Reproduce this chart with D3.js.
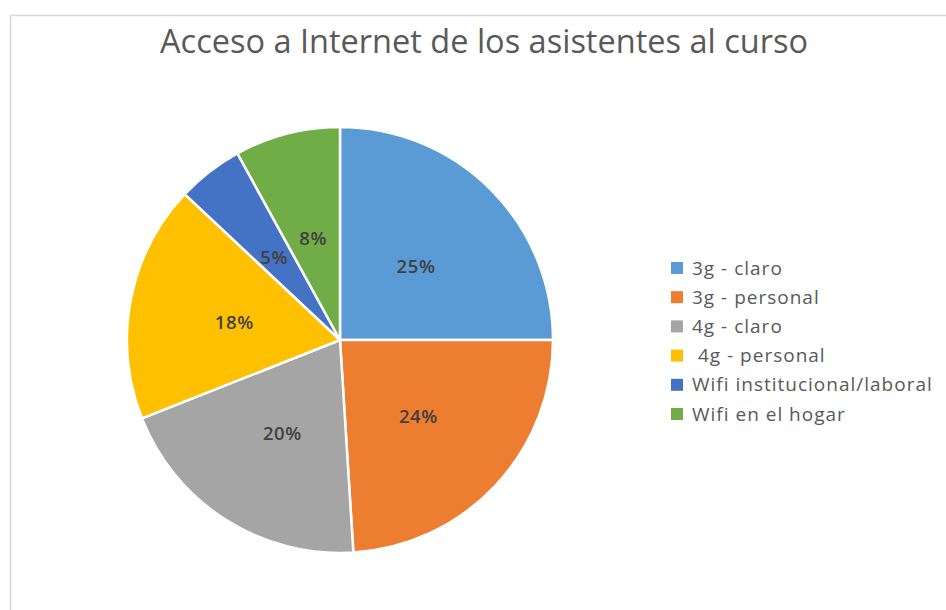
<!doctype html>
<html lang="es">
<head>
    <meta charset="UTF-8">
    <title>Acceso a Internet</title>
    <script src="https://d3js.org/d3.v7.min.js"></script>
    <style>
        body { margin: 0; background: #fff; }
        .title { font: 33px "Open Sans", sans-serif; fill: #595959; }
        .legend text { font: 500 19px "Open Sans", sans-serif; fill: #595959; letter-spacing: 1px; }
        .pct { font: 600 18.5px "Open Sans", sans-serif; fill: #404040; letter-spacing: 0.6px; }
    </style>
</head>
<body>
<svg id="chart" width="946" height="610"></svg>
<script>
    var categories = ["3g - claro", "3g - personal", "4g - claro", " 4g - personal", "Wifi institucional/laboral", "Wifi en el hogar"];
    var values = [25, 24, 20, 18, 5, 8];
    var colors = ["#5B9BD5", "#ED7D31", "#A5A5A5", "#FFC000", "#4472C4", "#70AD47"];

    var svg = d3.select("#chart");

    // frame of the chart area
    svg.append("path")
        .attr("d", "M946,15.5H10.5V610")
        .attr("fill", "none")
        .attr("stroke", "#d9d9d9")
        .attr("stroke-width", 1.5);

    svg.append("text")
        .attr("class", "title")
        .attr("x", 484)
        .attr("y", 53)
        .attr("text-anchor", "middle")
        .attr("textLength", 648)
        .attr("lengthAdjust", "spacingAndGlyphs")
        .text("Acceso a Internet de los asistentes al curso");

    var cx = 340, cy = 340, r = 213;
    var data = categories.map(function (c, i) { return {name: c, value: values[i], color: colors[i]}; });

    var pie = d3.pie().sort(null).value(function (d) { return d.value; });
    var arc = d3.arc().innerRadius(0).outerRadius(r);
    var labelArc = d3.arc().innerRadius(r * 0.505).outerRadius(r * 0.505);

    var g = svg.append("g").attr("transform", "translate(" + cx + "," + cy + ")");
    var arcs = pie(data);

    g.selectAll("path")
        .data(arcs)
        .enter()
        .append("path")
        .attr("d", arc)
        .attr("fill", function (d) { return d.data.color; })
        .attr("stroke", "#fff")
        .attr("stroke-width", 2.5);

    g.selectAll("text")
        .data(arcs)
        .enter()
        .append("text")
        .attr("class", "pct")
        .attr("transform", function (d) { return "translate(" + labelArc.centroid(d) + ")"; })
        .attr("text-anchor", "middle")
        .attr("dy", "0.5em")
        .text(function (d) { return d.data.value + "%"; });

    var legend = svg.append("g").attr("class", "legend");
    var y = d3.scalePoint().domain(categories).range([268, 414]);

    var item = legend.selectAll("g")
        .data(data)
        .enter()
        .append("g")
        .attr("transform", function (d) { return "translate(671," + y(d.name) + ")"; });

    item.append("rect")
        .attr("x", 0)
        .attr("y", -6)
        .attr("width", 12)
        .attr("height", 12)
        .attr("fill", function (d) { return d.color; });

    item.append("text")
        .attr("x", 21)
        .attr("dy", "0.35em")
        .attr("xml:space", "preserve")
        .style("white-space", "pre")
        .text(function (d) { return d.name; });
</script>
</body>
</html>
